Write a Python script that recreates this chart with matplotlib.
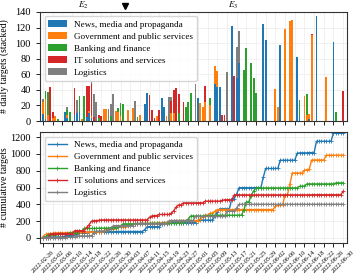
import matplotlib
matplotlib.use("Agg")
import matplotlib.pyplot as plt
import matplotlib.transforms as mtransforms
import numpy as np
import pandas as pd

plt.rcParams['font.family'] = ['Liberation Serif', 'DejaVu Serif']
plt.rcParams['mathtext.fontset'] = 'stix'

# one entry per day, 2022-02-26 .. 2022-06-30
dates = pd.date_range("2022-02-26", "2022-06-30", freq="D")

sectors = ["News, media and propaganda", "Government and public services",
           "Banking and finance", "IT solutions and services", "Logistics"]
colors = ["#1f77b4", "#ff7f0e", "#2ca02c", "#d62728", "#7f7f7f"]

news = [9, 2, 0, 0, 0, 0, 0, 0, 0, 12, 4, 0, 0, 8, 10, 12, 0, 0, 5, 10, 4, 0, 0, 0, 0,
        0, 0, 0, 0, 0, 0, 0, 0, 0, 0, 0, 0, 0, 0, 0, 0, 0, 22, 36, 0, 0, 0, 0, 0, 30,
        18, 0, 0, 0, 0, 0, 0, 0, 0, 0, 0, 0, 0, 0, 30, 0, 0, 0, 0, 0, 0, 47, 44, 44, 0,
        0, 0, 0, 122, 0, 55, 74, 0, 0, 0, 0, 0, 0, 0, 0, 0, 125, 104, 0, 0, 0, 0, 0, 98, 0,
        0, 0, 0, 0, 0, 82, 6, 0, 0, 0, 3, 0, 0, 135, 0, 0, 0, 0, 0, 0, 101, 0, 0, 0, 0]
government = [16, 26, 8, 0, 4, 6, 0, 0, 0, 0, 4, 0, 0, 0, 0, 0, 3, 0, 0, 3, 2, 0, 0, 0, 0,
              15, 16, 0, 0, 0, 13, 12, 6, 0, 0, 14, 0, 17, 0, 0, 8, 0, 0, 0, 0, 0, 0, 6, 0, 0,
              0, 7, 0, 10, 10, 0, 0, 0, 0, 0, 0, 0, 0, 0, 0, 23, 18, 25, 0, 21, 0, 24, 20, 0, 0,
              0, 0, 0, 0, 0, 0, 0, 0, 0, 0, 0, 0, 0, 0, 0, 0, 0, 0, 0, 0, 0, 41, 18, 0, 0,
              118, 0, 128, 130, 0, 0, 0, 0, 32, 8, 6, 110, 0, 0, 0, 0, 0, 56, 0, 0, 0, 0, 0, 0, 0]
banking = [0, 11, 29, 0, 0, 0, 2, 0, 0, 0, 6, 12, 0, 0, 0, 20, 0, 32, 0, 0, 0, 0, 0, 4, 0,
           0, 0, 0, 7, 0, 0, 5, 17, 22, 0, 0, 0, 0, 0, 5, 0, 0, 0, 0, 0, 0, 0, 0, 0, 0,
           0, 0, 0, 0, 0, 0, 10, 0, 0, 18, 25, 36, 0, 0, 0, 0, 0, 0, 0, 9, 0, 0, 0, 0, 0,
           0, 0, 0, 0, 0, 0, 0, 0, 65, 94, 0, 75, 55, 36, 0, 0, 0, 0, 0, 0, 0, 0, 0, 0, 0,
           0, 0, 0, 0, 0, 0, 21, 0, 0, 27, 0, 0, 0, 0, 0, 0, 0, 0, 0, 0, 0, 12, 0, 0, 0]
it_services = [0, 0, 0, 44, 7, 0, 0, 0, 0, 0, 0, 0, 0, 34, 0, 0, 0, 0, 40, 32, 42, 5, 0, 4, 6,
               0, 0, 0, 0, 0, 0, 0, 0, 0, 0, 0, 0, 0, 0, 0, 0, 0, 0, 0, 33, 14, 4, 0, 14, 0,
               0, 0, 0, 16, 30, 43, 25, 0, 25, 0, 0, 0, 0, 0, 0, 0, 0, 20, 0, 0, 0, 0, 0, 0, 8,
               8, 0, 0, 0, 58, 0, 0, 0, 0, 0, 0, 0, 0, 0, 0, 0, 0, 0, 0, 0, 0, 0, 0, 0, 0,
               0, 0, 0, 0, 0, 0, 0, 0, 0, 0, 0, 2, 0, 0, 0, 0, 0, 0, 0, 0, 0, 0, 0, 0, 39]
logistics = [3, 0, 0, 0, 0, 0, 0, 0, 0, 0, 4, 0, 0, 0, 17, 0, 0, 0, 0, 0, 2, 30, 24, 0, 0,
             0, 0, 15, 15, 35, 0, 0, 0, 0, 0, 0, 0, 0, 26, 0, 0, 0, 0, 0, 0, 0, 0, 0, 0, 0,
             0, 0, 31, 5, 0, 0, 0, 0, 0, 0, 0, 0, 0, 48, 0, 0, 0, 0, 0, 0, 0, 0, 0, 0, 0,
             0, 63, 0, 0, 0, 40, 42, 0, 0, 0, 0, 0, 0, 0, 0, 0, 0, 0, 0, 0, 0, 0, 0, 0, 0,
             0, 0, 0, 0, 0, 0, 0, 0, 0, 0, 0, 0, 0, 0, 0, 0, 0, 0, 0, 0, 0, 0, 0, 0, 0]

series = [news, government, banking, it_services, logistics]
days = np.arange(len(dates))
tick_labels = [d.strftime("%Y-%m-%d") for d in dates[::4]]

fig = plt.figure(figsize=(3.57, 2.77), dpi=100)
ax1 = fig.add_axes([0.112, 0.563, 0.860, 0.394])
ax2 = fig.add_axes([0.112, 0.123, 0.860, 0.400], sharex=ax1)

# stacked daily bars + cumulative lines
bottom = np.zeros(len(days))
for name, vals, col in zip(sectors, series, colors):
    vals = np.array(vals, dtype=float)
    ax1.bar(days, vals, 0.75, bottom=bottom, color=col, label=name, linewidth=0)
    bottom += vals
    ax2.plot(days, np.cumsum(vals), color=col, marker='+', ms=3, mew=0.6,
             lw=1, label=name)

for ax in (ax1, ax2):
    ax.grid(color='#ebebeb', linewidth=0.5)
    ax.set_axisbelow(True)
    ax.tick_params(labelsize=7.5, length=3, width=0.6)
    for s in ax.spines.values():
        s.set_linewidth(0.8)
        s.set_color('#333333')
    ax.legend(loc='upper left', fontsize=6.6, edgecolor='#cccccc',
              borderpad=0.4, labelspacing=0.4, handlelength=2.0)

ax1.set_ylim(0, 140)
ax1.set_yticks(range(0, 141, 20))
ax1.tick_params(labelbottom=False)
ax1.set_ylabel('# daily targets (stacked)', fontsize=7)
ax1.yaxis.set_label_coords(-0.1, 0.5)

ax2.set_ylim(-60, 1260)
ax2.set_yticks(range(0, 1201, 200))
ax2.set_ylabel('# cumulative targets', fontsize=7)
ax2.yaxis.set_label_coords(-0.1, 0.5)
ax2.set_xticks(days[::4])
ax2.set_xticklabels(tick_labels, rotation=45, fontsize=4.6)
ax2.tick_params(axis='x', pad=1.5)
ax2.set_xlim(-1.3, 125.6)

# event markers above the top panel
trans = mtransforms.blended_transform_factory(ax1.transData, ax1.transAxes)
ax1.text(16.5, 1.012, '$E_2$', transform=trans, ha='center', va='bottom', fontsize=6.5)
ax1.text(78.5, 1.012, '$E_3$', transform=trans, ha='center', va='bottom', fontsize=6.5)
ax1.plot([34], [1.05], marker='v', color='black', ms=5, transform=trans, clip_on=False)

fig.savefig('out.png', dpi=100)
